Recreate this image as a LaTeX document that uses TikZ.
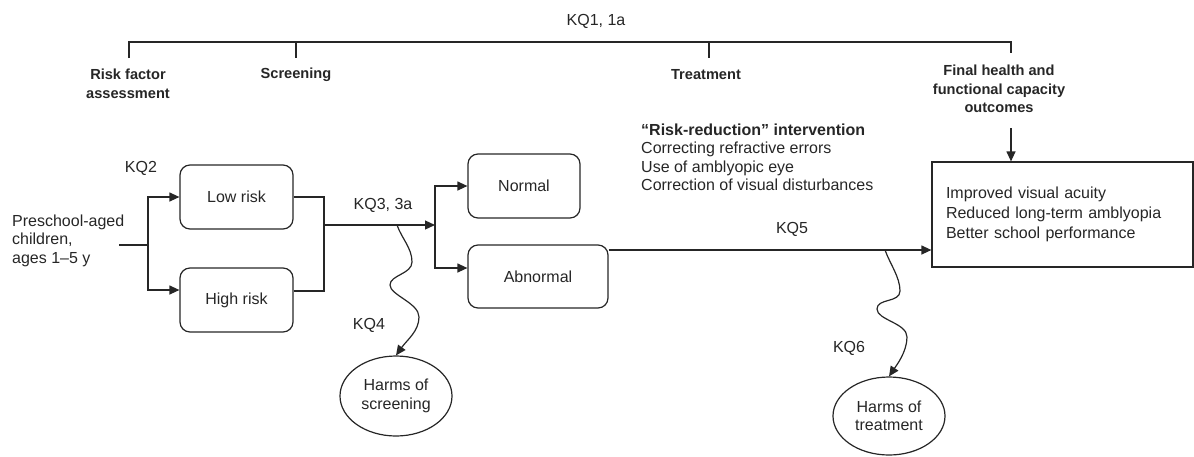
\documentclass[tikz,border=0pt]{standalone}
\usepackage{fontspec}
\setmainfont{Liberation Sans}
\usetikzlibrary{arrows.meta,shapes.geometric}
\begin{document}
\begin{tikzpicture}[x=1pt,y=-1pt,
  every node/.style={font=\fontsize{16}{18.5}\selectfont, inner sep=0pt, text=black!85},
  lw/.style={line width=1.2pt, draw=black!85},
  arr/.style={lw, -{Triangle[length=10pt,width=9pt]}},
  rbox/.style={draw, lw, rounded corners=10pt, minimum width=113pt, minimum height=64pt},
  harm/.style={ellipse, draw, lw, minimum width=112pt, minimum height=80pt, align=center},
  hdr/.style={font=\fontsize{14.6}{18.5}\selectfont\bfseries, align=center},
]
\useasboundingbox (0,0) rectangle (1194,456);

% header
\node (kq1) at (596,21) {KQ1, 1a};
\node[hdr] (rfa) at (128,84) {Risk factor\\assessment};
\node[hdr] (scr) at (296,75) {Screening};
\node[hdr] (trt) at (706,75) {Treatment};
\node[hdr] (fin) at (999,89) {Final health and\\functional capacity\\outcomes};

\coordinate (b1) at (129,58);
\coordinate (b2) at (296,58);
\coordinate (b3) at (709,58);
\coordinate (b4) at (1011,53);
\coordinate (top) at (0,42);
\draw[lw] (b1) -- (b1 |- top) -- (b4 |- top) -- (b4);
\draw[lw] (b2 |- top) -- (b2);
\draw[lw] (b3 |- top) -- (b3);

% texts
\node[align=left, anchor=west] (rri) at (641,157.5) {\textbf{“Risk-reduction” intervention}\\Correcting refractive errors\\Use of amblyopic eye\\Correction of visual disturbances};
\node[align=left, anchor=west] (pre) at (12,240.5) {Preschool-aged\\children,\\ages 1–5 y};

% boxes
\node[rbox] (low) at (236.5,197) {Low risk};
\node[rbox] (high) at (236.5,300) {High risk};
\node[rbox, minimum width=112pt] (norm) at (524,186) {Normal};
\node[rbox, minimum width=140pt, minimum height=63pt] (abn) at (538,276.5) {Abnormal};
\node[draw, lw, minimum width=261pt, minimum height=105pt, inner xsep=14pt, text width=233pt, align=left, font=\fontsize{16}{20}\selectfont] (out) at (1062.5,214.5) {Improved visual acuity\\Reduced long-term amblyopia\\Better school performance};
\node[harm] (hs) at (396,396) {Harms of\\screening};
\node[harm, minimum height=78pt] (ht) at (889,416) {Harms of\\treatment};

% labels
\node (kq2) at (141,168) {KQ2};
\node (kq3) at (383,205) {KQ3, 3a};
\node (kq4) at (369,325) {KQ4};
\node (kq5) at (792,229) {KQ5};
\node (kq6) at (849,348) {KQ6};

% connectors
\coordinate (p0) at (119,245);
\coordinate (j1) at (148,245);
\draw[lw] (p0) -- (j1);
\draw[arr] (j1) |- (low.west);
\draw[arr] (j1) |- ([yshift=10pt]high.west);
\coordinate (m1) at (324,225);
\draw[lw] (low.east) -| (m1);
\draw[lw] ([yshift=9pt]high.east) -| (m1);
\coordinate (j3) at (435,225);
\draw[arr] (m1) -- (j3);
\draw[arr] (j3) |- (norm.west);
\draw[arr] (j3) |- ([yshift=8.5pt]abn.west);
\coordinate (k5) at (0,250);
\draw[arr] (abn.east |- k5) -- (out.west |- k5);

\coordinate (fa) at (1011,128);
\draw[arr] (fa) -- (fa |- out.north);

% wavy harms connectors
\coordinate (w4) at (397,225);
\draw[arr] (w4) .. controls (402,239) and (412,248) .. (412,262)
  .. controls (412,274) and (390,275) .. (390,285)
  .. controls (390,295) and (419,303) .. (419,317)
  .. controls (419,331) and (407,340) .. (hs.north);
\coordinate (w6) at (885,250);
\draw[arr] (w6) .. controls (890,264) and (900,277) .. (900,291)
  .. controls (900,303) and (877,298) .. (877,309)
  .. controls (877,320) and (907,323) .. (907,337)
  .. controls (907,352) and (896,366) .. (ht.north);
\end{tikzpicture}
\end{document}
